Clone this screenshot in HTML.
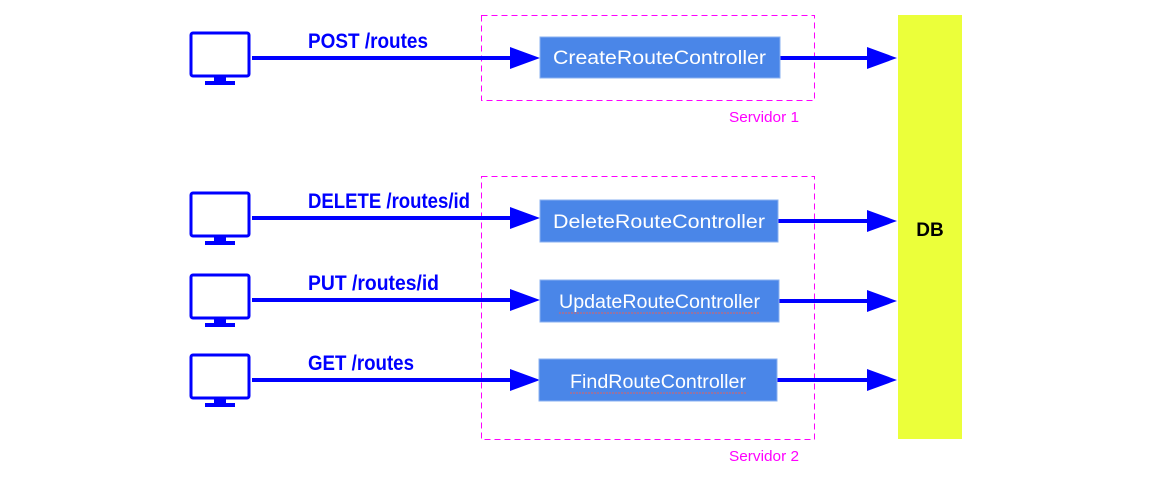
<!DOCTYPE html>
<html><head><style>body{margin:0;background:#fff}</style></head><body>
<svg width="1150" height="474" xmlns="http://www.w3.org/2000/svg">
<defs>
<g id="mon">
<rect x="191" y="-25" width="58" height="43" rx="2" fill="none" stroke="#0000ff" stroke-width="3"/>
<rect x="214" y="18" width="12" height="6" fill="#0000ff"/>
<rect x="205" y="23" width="30" height="4" fill="#0000ff"/>
</g>
</defs>
<rect x="481.5" y="15.5" width="333" height="85" fill="none" stroke="#ff00ff" stroke-width="1" stroke-dasharray="6,4"/>
<rect x="481.5" y="176.5" width="333" height="263" fill="none" stroke="#ff00ff" stroke-width="1" stroke-dasharray="6,4"/>
<text x="729" y="122" font-family="Liberation Sans, sans-serif" font-size="15" fill="#ff00ff" textLength="70" lengthAdjust="spacingAndGlyphs">Servidor 1</text>
<text x="729" y="461" font-family="Liberation Sans, sans-serif" font-size="15" fill="#ff00ff" textLength="70" lengthAdjust="spacingAndGlyphs">Servidor 2</text>
<rect x="898" y="15" width="64" height="424" fill="#ebff3a"/>
<text x="930" y="236" text-anchor="middle" font-family="Liberation Sans, sans-serif" font-weight="bold" font-size="19" fill="#000">DB</text>
<g font-family="Liberation Sans, sans-serif" font-weight="bold" font-size="21" fill="#0000ff" lengthAdjust="spacingAndGlyphs">
<text x="308" y="48" textLength="120" lengthAdjust="spacingAndGlyphs">POST /routes</text>
<text x="308" y="208" textLength="162" lengthAdjust="spacingAndGlyphs">DELETE /routes/id</text>
<text x="308" y="290" textLength="131" lengthAdjust="spacingAndGlyphs">PUT /routes/id</text>
<text x="308" y="370" textLength="106" lengthAdjust="spacingAndGlyphs">GET /routes</text>
</g>
<g fill="#0000ff" stroke="none">
<use href="#mon" y="58"/><use href="#mon" y="218"/><use href="#mon" y="300"/><use href="#mon" y="380"/>
<rect x="252" y="56" width="260" height="4"/><polygon points="510,47 540,58 510,69"/>
<rect x="252" y="216" width="260" height="4"/><polygon points="510,207 540,218 510,229"/>
<rect x="252" y="298" width="260" height="4"/><polygon points="510,289 540,300 510,311"/>
<rect x="252" y="378" width="260" height="4"/><polygon points="510,369 540,380 510,391"/>
<rect x="780" y="56" width="90" height="4"/><polygon points="867,47 897,58 867,69"/>
<rect x="778" y="219" width="92" height="4"/><polygon points="867,210 897,221 867,232"/>
<rect x="779" y="299" width="91" height="4"/><polygon points="867,290 897,301 867,312"/>
<rect x="777" y="378" width="93" height="4"/><polygon points="867,369 897,380 867,391"/>
</g>
<g fill="#4a86e8" stroke="#8ab0f0" stroke-width="1">
<rect x="540" y="37" width="240" height="41"/>
<rect x="540" y="200" width="238" height="42"/>
<rect x="540" y="280" width="239" height="42"/>
<rect x="539" y="359" width="238" height="42"/>
</g>
<g font-family="Liberation Sans, sans-serif" font-size="19" fill="#fff">
<text x="553" y="64" textLength="213" lengthAdjust="spacingAndGlyphs">CreateRouteController</text>
<text x="553" y="228" textLength="212" lengthAdjust="spacingAndGlyphs">DeleteRouteController</text>
<text x="559" y="308" textLength="201" lengthAdjust="spacingAndGlyphs">UpdateRouteController</text>
<text x="570" y="388" textLength="176" lengthAdjust="spacingAndGlyphs">FindRouteController</text>
</g>
<g stroke="#e06060" stroke-width="1" fill="none" stroke-dasharray="2,1">
<line x1="559" y1="313" x2="759" y2="313"/>
<line x1="570" y1="393" x2="746" y2="393"/>
</g>
</svg>
</body></html>
